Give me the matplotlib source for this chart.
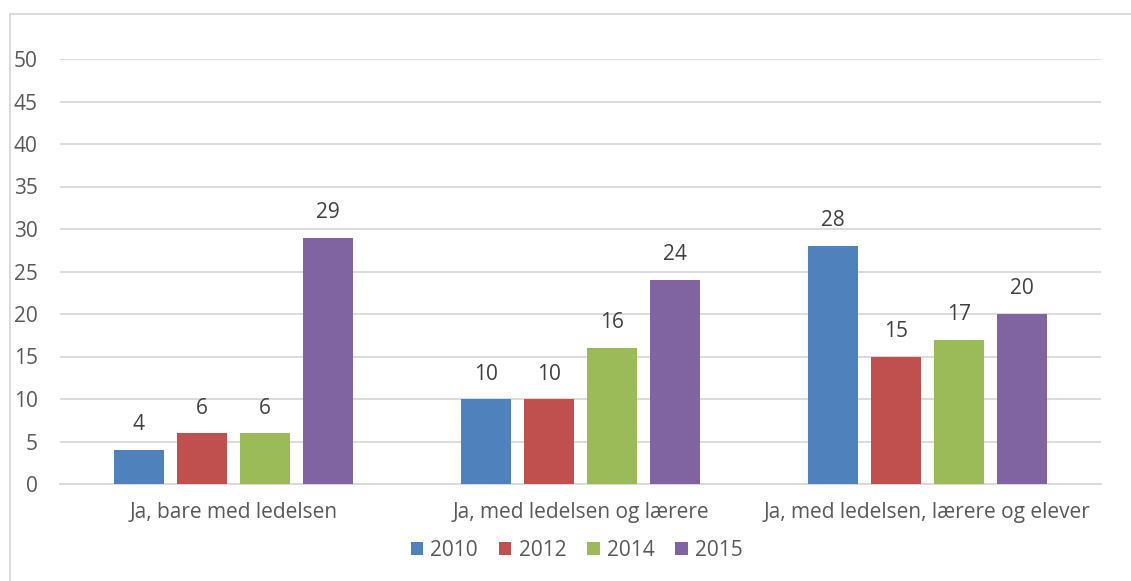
import matplotlib.pyplot as plt
import numpy as np
from matplotlib.lines import Line2D

plt.rcParams['font.family'] = ['Open Sans', 'DejaVu Sans']

categories = ['Ja, bare med ledelsen', 'Ja, med ledelsen og lærere', 'Ja, med ledelsen, lærere og elever']
years = ['2010', '2012', '2014', '2015']
v2010 = [4, 10, 28]
v2012 = [6, 10, 15]
v2014 = [6, 16, 17]
v2015 = [29, 24, 20]
series = [v2010, v2012, v2014, v2015]
colors = ['#4F81BD', '#C0504D', '#9BBB59', '#8064A2']

W, H = 1131, 581
fig = plt.figure(figsize=(W / 100, H / 100), dpi=100)
ax = fig.add_axes([60 / W, 1 - 484 / H, (1101 - 60) / W, (484 - 59) / H])

x = np.arange(len(categories))
step = 0.1816
width = 0.144
txt = '#595959'
fs = 15
for i, (vals, yr, c) in enumerate(zip(series, years, colors)):
    pos = x + (i - 1.5) * step
    bars = ax.bar(pos, vals, width, color=c, label=yr, zorder=3)
    for b, v in zip(bars, vals):
        ax.annotate(str(v), (b.get_x() + b.get_width() / 2, v), xytext=(0, 18),
                    textcoords='offset points', ha='center', va='center',
                    fontsize=fs, color='#404040')

ax.set_xlim(-0.5, 2.5)
ax.set_ylim(0, 50)
ax.set_yticks(range(0, 51, 5))
ax.yaxis.grid(True, color='#D9D9D9', linewidth=1.3, zorder=0)
ax.set_axisbelow(True)
for s in ['top', 'right', 'left']:
    ax.spines[s].set_visible(False)
ax.spines['bottom'].set_color('#D9D9D9')
ax.spines['bottom'].set_linewidth(1.3)
ax.tick_params(axis='both', length=0, labelsize=fs, colors=txt)
ax.tick_params(axis='y', pad=16)
ax.tick_params(axis='x', pad=13)
ax.set_xticks(x)
ax.set_xticklabels(categories)

fig.legend(loc='center', bbox_to_anchor=(0.51, 1 - 550 / H), ncol=4, frameon=False,
           fontsize=fs, handlelength=0.6, handleheight=0.6, handletextpad=0.35,
           columnspacing=1.0, labelcolor=txt)

# figure border (top and left visible)
fig.add_artist(Line2D([9.5 / W, 1.0], [1 - 13.5 / H, 1 - 13.5 / H], color='#D9D9D9', lw=1.3))
fig.add_artist(Line2D([9.5 / W, 9.5 / W], [0, 1 - 13.5 / H], color='#D9D9D9', lw=1.3))

fig.savefig('out.png', dpi=100)
